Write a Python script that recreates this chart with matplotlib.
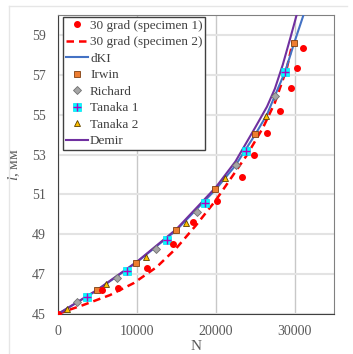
import matplotlib
matplotlib.use("Agg")
import matplotlib.pyplot as plt
from matplotlib.lines import Line2D

plt.rcParams['font.family'] = ['Liberation Serif', 'DejaVu Serif']
plt.rcParams['mathtext.fontset'] = 'custom'
plt.rcParams['mathtext.rm'] = 'Liberation Serif'
plt.rcParams['mathtext.it'] = 'Liberation Serif:italic'

# 30 grad (specimen 1) - points
n_sp1 = [0, 5550, 7670, 11270, 14530, 17070, 20170, 23350, 24830, 26520, 28130, 29570, 30250, 31010]
l_sp1 = [45, 46.19, 46.3, 47.33, 48.5, 49.62, 50.67, 51.87, 53.0, 54.1, 55.18, 56.32, 57.32, 58.32]

# 30 grad (specimen 2) - dashed curve
n_sp2 = [0, 1500, 3200, 6600, 9600, 12500, 15000, 17500, 20000, 22000, 24000, 26000, 27500, 29000, 29800]
l_sp2 = [45, 45.22, 45.45, 45.95, 46.55, 47.35, 48.3, 49.45, 50.7, 51.85, 53.0, 54.35, 55.6, 57.3, 58.7]

# dKI curve
n_dki = [0, 5000, 10000, 15000, 20000, 22500, 25000, 26500, 27500, 28800, 29950, 31300]
l_dki = [45, 46.2, 47.6, 49.2, 51.25, 52.45, 54.0, 55.0, 55.95, 57.15, 58.6, 60.2]

# Demir curve
n_dem = [0, 5000, 10000, 15000, 20000, 22500, 25000, 26500, 27500, 28500, 29500, 30400]
l_dem = [45, 46.22, 47.62, 49.25, 51.35, 52.65, 54.35, 55.4, 56.3, 57.5, 58.9, 60.2]

# models
n_irwin = [4920, 9910, 15000, 19950, 25040, 29910]
l_irwin = [46.19, 47.58, 49.2, 51.25, 54.03, 58.58]
n_rich = [2450, 7540, 12460, 17630, 22620, 27490]
l_rich = [45.62, 46.82, 48.27, 50.12, 52.45, 55.95]
n_tan1 = [3730, 8730, 13810, 18690, 23890, 28760]
l_tan1 = [45.87, 47.17, 48.73, 50.58, 53.2, 57.12]
n_tan2 = [1100, 6100, 11190, 16270, 21230, 26350]
l_tan2 = [45.25, 46.5, 47.87, 49.58, 51.83, 54.95]

fig = plt.figure(figsize=(3.53, 3.54), dpi=100)
# light frame of the figure
fig.add_artist(Line2D([8.5/353, 8.5/353], [0, 1 - 6/354], color='#e6e6e6', lw=1))
fig.add_artist(Line2D([8.5/353, 347/353], [1 - 6/354, 1 - 6/354], color='#e6e6e6', lw=1))

ax = fig.add_axes([58/353, 1 - 314/354, 276/353, 299/354])

ax.plot(n_sp2, l_sp2, color='#ff0000', lw=1.8, dashes=(3, 2), zorder=3)
ax.plot(n_dki, l_dki, color='#4472c4', lw=1.5, zorder=4)
ax.plot(n_dem, l_dem, color='#7030a0', lw=1.5, zorder=4)

ax.plot(n_irwin, l_irwin, ls='none', marker='s', ms=4, mfc='#ed7d31', mec='#7f3f10', mew=0.6, zorder=5)
ax.plot(n_rich, l_rich, ls='none', marker='D', ms=4, mfc='#a5a5a5', mec='#707070', mew=0.6, zorder=5)
t1a, = ax.plot(n_tan1, l_tan1, ls='none', marker='s', ms=6, mfc='#00ffff', mec='#00e0f0', mew=0.5, zorder=5)
t1b, = ax.plot(n_tan1, l_tan1, ls='none', marker='+', ms=6, mec='#b000c0', mew=1.0, zorder=6)
ax.plot(n_tan2, l_tan2, ls='none', marker='^', ms=4.5, mfc='#ffc000', mec='#5a4000', mew=0.6, zorder=5)
ax.plot(n_sp1, l_sp1, ls='none', marker='o', ms=4, mfc='#ff0000', mec='#ff0000', zorder=7)

ax.set_xlim(0, 35000)
ax.set_ylim(45, 60)
ax.set_xticks([0, 10000, 20000, 30000])
ax.set_yticks([45, 47, 49, 51, 53, 55, 57, 59])

ax.yaxis.grid(True, color='#e3e3e3', lw=1.5)
ax.xaxis.grid(True, color='#c8c8c8', lw=1)
ax.set_axisbelow(True)

ax.tick_params(length=0, labelsize=10, labelcolor='#595959')
ax.tick_params(axis='y', pad=9)
ax.tick_params(axis='x', pad=8)
for s in ['left', 'bottom']:
    ax.spines[s].set_color('#404040')
for s in ['top', 'right']:
    ax.spines[s].set_color('#808080')

ax.set_xlabel('N', fontsize=11, color='#595959', labelpad=1)
ax.set_ylabel('$l$, мм', fontsize=11, color='#595959', labelpad=7)

handles = [
    Line2D([], [], ls='none', marker='o', ms=4, color='#ff0000'),
    Line2D([], [], color='#ff0000', lw=1.8, dashes=(3, 2)),
    Line2D([], [], color='#4472c4', lw=1.5),
    Line2D([], [], ls='none', marker='s', ms=4, mfc='#ed7d31', mec='#7f3f10', mew=0.6),
    Line2D([], [], ls='none', marker='D', ms=4, mfc='#a5a5a5', mec='#707070', mew=0.6),
    (t1a, t1b),
    Line2D([], [], ls='none', marker='^', ms=4.5, mfc='#ffc000', mec='#5a4000', mew=0.6),
    Line2D([], [], color='#7030a0', lw=1.5),
]
labels = ['30 grad (specimen 1)', '30 grad (specimen 2)', 'dKI', 'Irwin', 'Richard',
          'Tanaka 1', 'Tanaka 2', 'Demir']
leg = ax.legend(handles, labels, loc='upper left', bbox_to_anchor=(0.018, 0.993),
                borderaxespad=0, fontsize=9.5, handlelength=1.7, handletextpad=0.15,
                labelspacing=0.32, borderpad=0.2, fancybox=False, framealpha=1,
                edgecolor='#404040', labelcolor='#404040')
leg.get_frame().set_linewidth(1)

fig.savefig('out.png', dpi=100)
